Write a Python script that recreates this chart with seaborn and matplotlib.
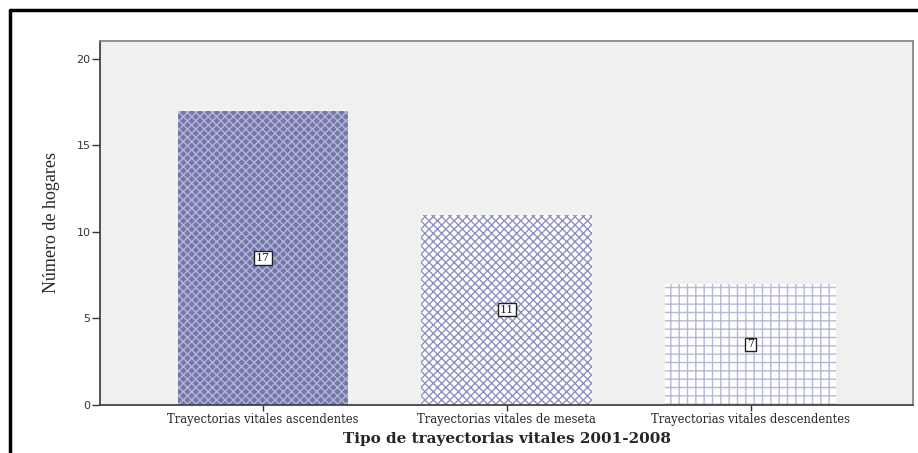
"""Bar chart of life trajectory types (2001-2008)."""

import matplotlib
matplotlib.use('Agg')
import matplotlib.pyplot as plt
import seaborn as sns
import pandas as pd
from matplotlib.lines import Line2D

categories = ['Trayectorias vitales ascendentes',
              'Trayectorias vitales de meseta',
              'Trayectorias vitales descendentes']
hogares = [17, 11, 7]
y_ticks = [0, 5, 10, 15, 20]

df = pd.DataFrame({'tipo': categories, 'hogares': hogares})

sns.set_style('white')
plt.rcParams['hatch.linewidth'] = 1.0

fig = plt.figure(figsize=(9.18, 4.53), dpi=100)
ax = fig.add_axes([0.109, 0.106, 0.886, 0.804])
ax.set_facecolor('#f0f0f0')

sns.barplot(data=df, x='tipo', y='hogares', ax=ax, width=0.70,
            color='white', saturation=1, errorbar=None)

# Fill patterns per bar
faces = ['#7477ab', 'white', 'white']
hatch_cols = ['#b4b6d6', '#8e90c0', '#b6b8da']
hatches = ['xxxx', 'xxxx', '++']
for patch, fc, hc, h in zip(ax.patches, faces, hatch_cols, hatches):
    patch.set_facecolor(fc)
    patch.set_edgecolor(hc)
    patch.set_hatch(h)
    patch.set_linewidth(0)

# Value labels in boxes at bar middle
for i, v in enumerate(hogares):
    ax.text(i, v / 2, str(v), ha='center', va='center', fontsize=8,
            family='DejaVu Serif',
            bbox=dict(boxstyle='square,pad=0.15', fc='white', ec='#222222', lw=1))

ax.set_xlim(-0.668, 2.668)
ax.set_ylim(0, 21.04)
ax.set_yticks(y_ticks)
ax.tick_params(axis='y', direction='out', length=6, width=1, color='#333333',
               labelsize=8, labelcolor='#333333', left=True, pad=1)
ax.tick_params(axis='x', direction='out', length=4, width=1, color='#333333',
               bottom=True, pad=2)
for lbl in ax.get_xticklabels():
    lbl.set_family('DejaVu Serif')
    lbl.set_fontsize(8.3)

ax.set_xlabel('Tipo de trayectorias vitales 2001-2008', family='DejaVu Serif',
              fontweight='bold', fontsize=11, labelpad=4)
ax.set_ylabel('Número de hogares', family='Liberation Serif', fontsize=13,
              labelpad=12)

for side in ['left', 'bottom']:
    ax.spines[side].set_color('#444444')
    ax.spines[side].set_linewidth(1.3)
for side in ['top', 'right']:
    ax.spines[side].set_color('#888888')
    ax.spines[side].set_linewidth(1.3)

# Outer frame lines of the original document
fig.add_artist(Line2D([0.011, 1.0], [0.978, 0.978], color='black', lw=2.5,
                      transform=fig.transFigure))
fig.add_artist(Line2D([0.011, 0.011], [0.0, 0.978], color='black', lw=2.5,
                      transform=fig.transFigure))

fig.savefig('out.png', dpi=100)
